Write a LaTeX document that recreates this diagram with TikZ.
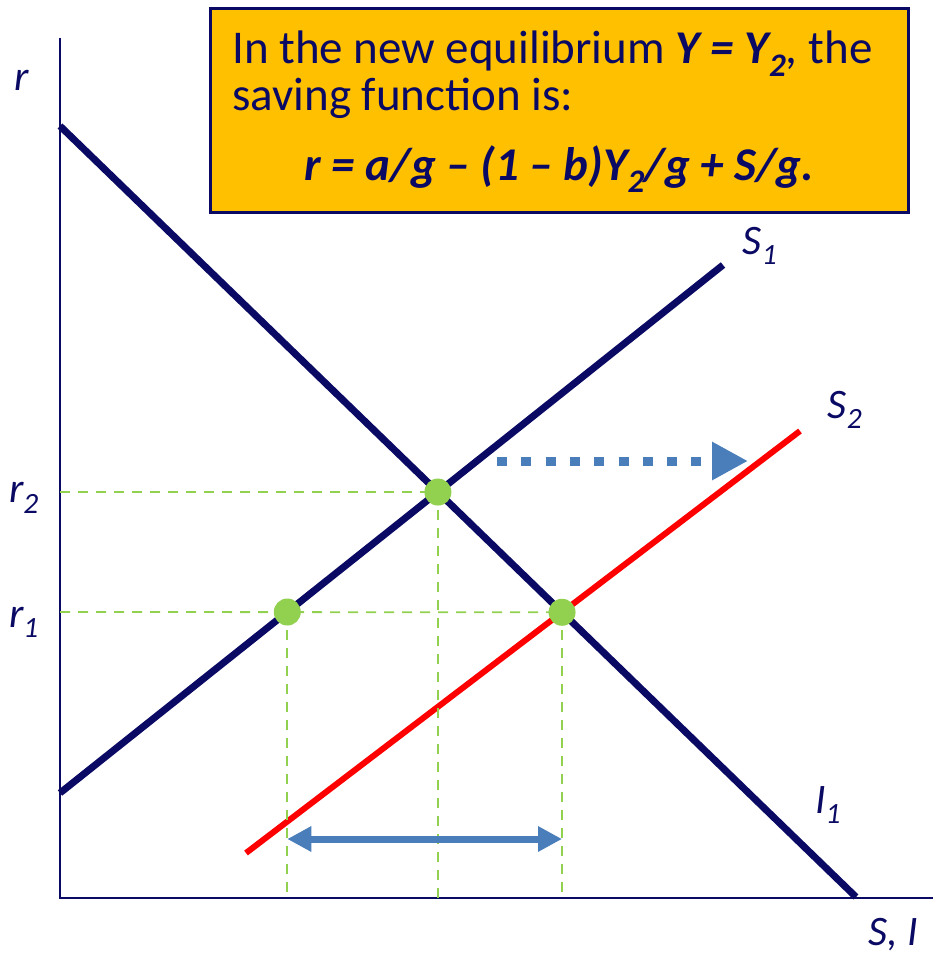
\documentclass[tikz,border=0pt]{standalone}
\usepackage{fontspec}
\setmainfont{Carlito}
\usetikzlibrary{intersections,arrows.meta}
\definecolor{navy}{RGB}{10,10,100}
\definecolor{boxfill}{RGB}{255,192,0}
\definecolor{dotgreen}{RGB}{146,208,80}
\definecolor{arrblue}{RGB}{74,126,187}
\tikzset{
  curve/.style={line width=7pt, navy},
  guide/.style={dotgreen, line width=1.8pt, dash pattern=on 10pt off 8pt},
  eqdot/.style={circle, fill=dotgreen, inner sep=0pt, minimum size=27pt},
  lab/.style={text=navy, font=\fontsize{42}{48}\selectfont\itshape, inner sep=0pt},
  boxtext/.style={text=navy, font=\fontsize{47}{52}\selectfont, inner sep=0pt},
}
\begin{document}
\begin{tikzpicture}[x=1pt,y=-1pt]
\useasboundingbox (0,0) rectangle (933,955);
% axes
\coordinate (o) at (60,898);
\coordinate (ytop) at (60,38);
\coordinate (xend) at (933,898);
\draw[navy, line width=2pt] (ytop) -- (o) -- (xend);
% curves
\coordinate (i1a) at (60,126);
\coordinate (i1b) at (856,897);
\coordinate (s1a) at (60,793);
\coordinate (s1b) at (723,265);
\coordinate (s2a) at (246,853);
\coordinate (s2b) at (800,431);
\draw[curve, name path=I1] (i1a) -- (i1b);
\draw[curve, name path=S1] (s1a) -- (s1b);
\draw[red, line width=6pt, name path=S2] (s2a) -- (s2b);
\path[name intersections={of=I1 and S1, by=E2}];
\path[name intersections={of=I1 and S2, by=E3}];
\path[name path=R1line] (60,612) -- (700,612);
\path[name intersections={of=S1 and R1line, by=E1}];
% guides
\coordinate (ax2) at (o |- E2);
\coordinate (ax1) at (o |- E1);
\draw[guide] (ax2) -- (E2);
\draw[guide] (ax1) -- (E3);
\draw[guide] (E1) -- (E1 |- o);
\draw[guide] (E2) -- (E2 |- o);
\draw[guide] (E3) -- (E3 |- o);
% dots
\node[eqdot] (d2) at (E2) {};
\node[eqdot] (d1) at (E1) {};
\node[eqdot] (d3) at (E3) {};
% arrows
\coordinate (sh1) at (497,461);
\coordinate (sh2) at (748,461);
\draw[arrblue, line width=9pt, dash pattern=on 10pt off 14.3pt, -{Triangle[length=36pt,width=36pt]}] (sh1) -- (sh2);
\coordinate (da) at (E1 |- 0,839);
\coordinate (db) at (E3 |- 0,839);
\draw[arrblue, line width=7pt, {Triangle[length=24pt,width=24pt]}-{Triangle[length=24pt,width=24pt]}] (da) -- (db);
% labels
\node[lab] (lr) at (22,80) {r};
\node[lab] (lr2) at (24,498) {r\textsubscript{2}};
\node[lab] (lr1) at (24,622) {r\textsubscript{1}};
\node[lab] (ls1) at (760,246) {S\textsubscript{1}};
\node[lab] (ls2) at (845,410) {S\textsubscript{2}};
\node[lab] (li1) at (828,805) {I\textsubscript{1}};
\node[lab] (lsi) at (893,935) {S, I};
% box
\node[draw=navy, line width=3pt, fill=boxfill, minimum width=698pt, minimum height=204pt, anchor=north west] (box) at (209,7) {};
\node[boxtext, anchor=base west] (t1) at (232,64) {In the new equilibrium \textbf{\textit{Y = Y\textsubscript{2}}}\textit{,} the};
\node[boxtext, anchor=base west] (t2) at (232,111) {saving function is:};
\node[boxtext, anchor=base] (t3) at (box.center |- 0,180) {\textbf{\textit{r = a/g – (1 – b)Y\textsubscript{2}/g + S/g.}}};
\end{tikzpicture}
\end{document}
